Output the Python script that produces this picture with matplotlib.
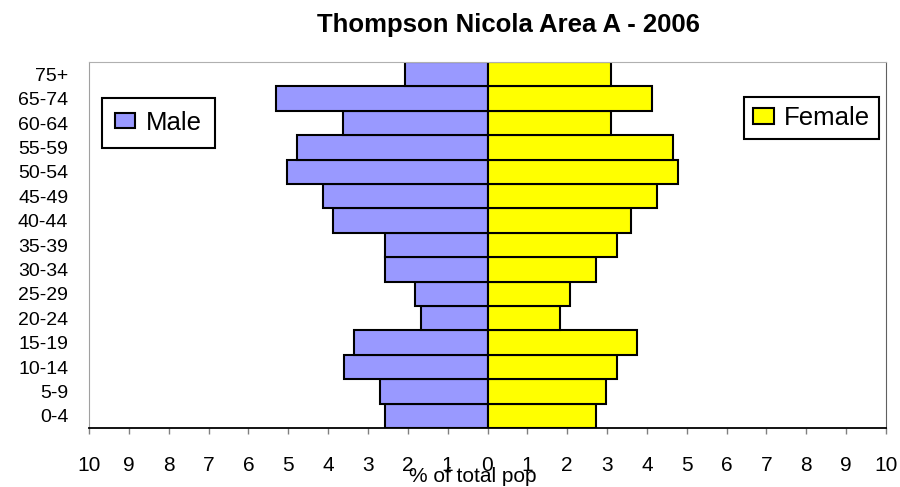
"""Pirâmide etária - Thompson Nicola Area A, 2006."""

import matplotlib

matplotlib.use("Agg")
import matplotlib.pyplot as plt
from matplotlib.patches import Patch
import numpy as np

plt.rcParams["font.family"] = ["Liberation Sans", "DejaVu Sans"]

faixas = ["0-4", "5-9", "10-14", "15-19", "20-24", "25-29", "30-34", "35-39",
          "40-44", "45-49", "50-54", "55-59", "60-64", "65-74", "75+"]
homens = [2.58, 2.71, 3.61, 3.35, 1.68, 1.81, 2.58, 2.58,
          3.87, 4.14, 5.04, 4.78, 3.62, 5.31, 2.07]
mulheres = [2.72, 2.97, 3.24, 3.75, 1.81, 2.07, 2.72, 3.24,
            3.61, 4.26, 4.79, 4.66, 3.09, 4.14, 3.11]
marcas = list(range(-10, 11))

cor_homem = "#9999FF"
cor_mulher = "#FFFF00"

fig = plt.figure(figsize=(9.0, 4.87), dpi=100)
ax = fig.add_axes([89 / 900, 1 - 428 / 487, 797 / 900, 366 / 487])

y = np.arange(len(faixas))
ax.barh(y, -np.array(homens), height=1.0, color=cor_homem,
        edgecolor="black", linewidth=1.5)
ax.barh(y, mulheres, height=1.0, color=cor_mulher,
        edgecolor="black", linewidth=1.5)

ax.set_xlim(-10, 10)
ax.set_ylim(-0.5, len(faixas) - 0.5)
ax.set_yticks(y)
ax.set_yticklabels(faixas, fontsize=14)
ax.tick_params(axis="y", length=0, pad=15)

ax.set_xticks(marcas)
ax.set_xticklabels([str(abs(m)) for m in marcas], fontsize=15)
ax.tick_params(axis="x", direction="out", length=4.5, width=1,
               color="#808080", pad=16)

ax.spines["top"].set_color("#B0B0B0")
ax.spines["left"].set_color("#A0A0A0")
ax.spines["right"].set_color("#606060")
ax.spines["bottom"].set_color("black")
ax.spines["bottom"].set_linewidth(1.3)

fig.text(508.5 / 900, 1 - 25 / 487, "Thompson Nicola Area A - 2006",
         ha="center", va="center", fontsize=18.5, fontweight="bold")
fig.text(473 / 900, 1 - 477 / 487, "% of total pop", ha="center",
         va="center", fontsize=15)

estilo_legenda = dict(fontsize=18.5, frameon=True, fancybox=False,
                      edgecolor="black", framealpha=1, handlelength=0.8,
                      handleheight=0.55, handletextpad=0.4, borderaxespad=0)
leg_h = ax.legend(handles=[Patch(facecolor=cor_homem, edgecolor="black",
                                 linewidth=1.5, label="Male")],
                  loc="upper left", bbox_to_anchor=(13 / 797, 330 / 366),
                  borderpad=0.5, **estilo_legenda)
leg_h.get_frame().set_linewidth(1.5)
ax.add_artist(leg_h)
leg_m = ax.legend(handles=[Patch(facecolor=cor_mulher, edgecolor="black",
                                 linewidth=1.5, label="Female")],
                  loc="upper right", bbox_to_anchor=(790 / 797, 331 / 366),
                  borderpad=0.35, **estilo_legenda)
leg_m.get_frame().set_linewidth(1.5)

fig.savefig("out.png", dpi=100)
plt.close(fig)
